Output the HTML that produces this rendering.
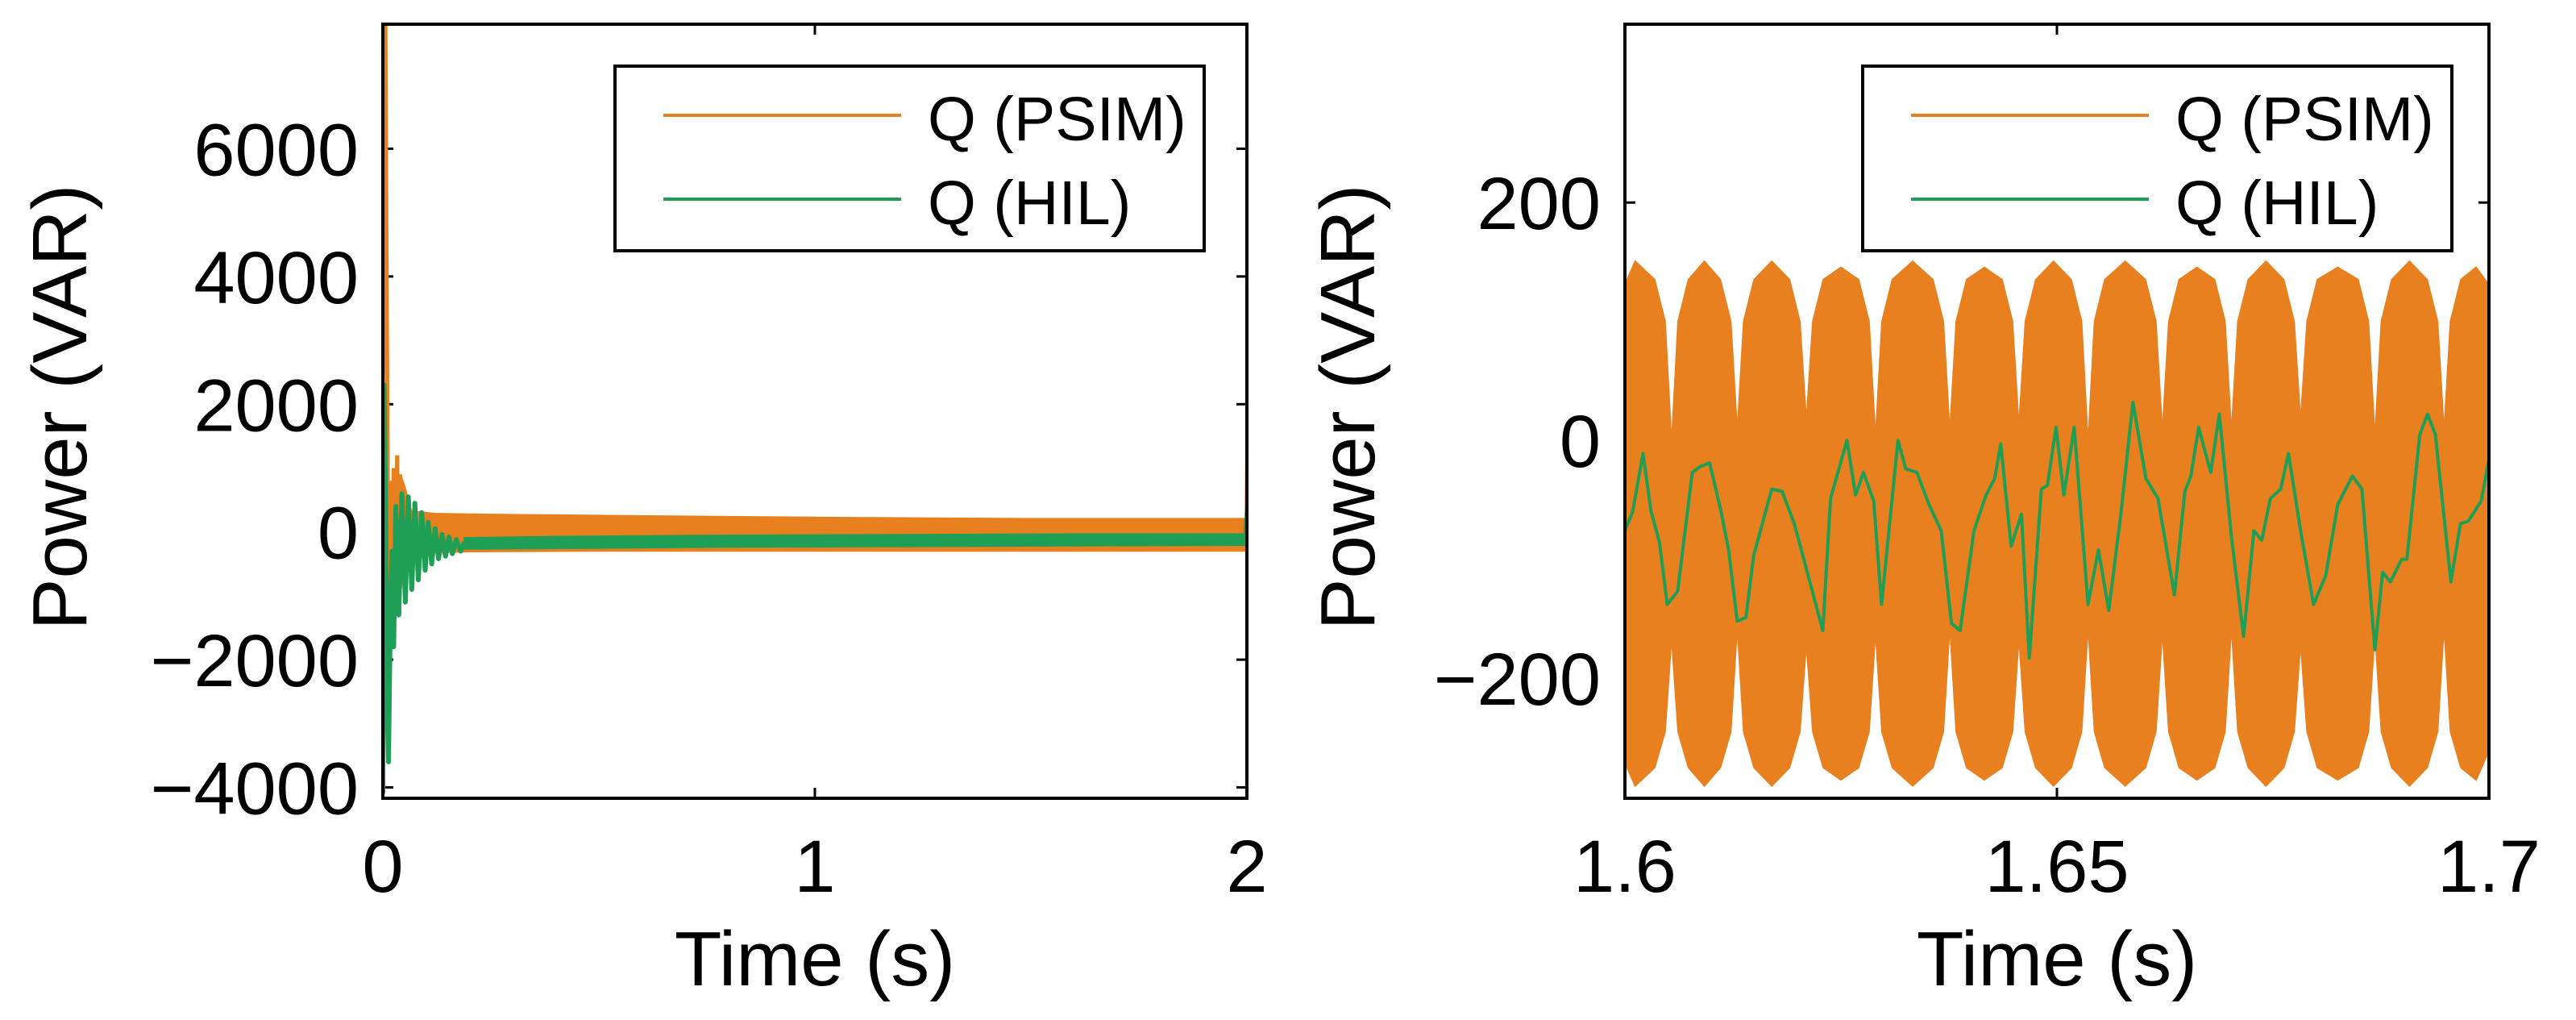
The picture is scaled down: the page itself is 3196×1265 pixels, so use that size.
<!DOCTYPE html>
<html><head><meta charset="utf-8"><title>Q power comparison</title>
<style>
html,body{margin:0;padding:0;background:#fff;}
svg{display:block;}
text{font-family:"Liberation Sans",Arial,sans-serif;fill:#000;}
</style></head>
<body>
<svg id="fig" width="3196" height="1265" viewBox="0 0 3196 1265" xmlns="http://www.w3.org/2000/svg">
<g id="left"></g>
<g id="right"></g>
</svg>
<script>
// ---------- LEFT CHART DATA ----------
const leftXTicks = [0, 1, 2];
const leftXTickLabels = ["0", "1", "2"];
const leftYTicks = [-4000, -2000, 0, 2000, 4000, 6000];
const leftYTickLabels = ["\u22124000", "\u22122000", "0", "2000", "4000", "6000"];
const leftPsimT = [0.000, 0.002, 0.006, 0.008, 0.010, 0.013, 0.016, 0.020, 0.025, 0.030, 0.033, 0.036, 0.040];
const leftPsimV = [600, 7950, 7950, 5000, 2500, -1400, 800, -1400, 1000, -800, 1200, -600, 900];
const leftPsimBandT = [0.04, 0.05, 0.065, 0.09, 0.12, 0.2, 0.5, 1.0, 1.5, 1.995];
const leftPsimBandHi = [900, 700, 320, 300, 280, 270, 250, 220, 200, 200];
const leftPsimBandLo = [-900, -700, -450, -350, -320, -300, -290, -290, -290, -290];
const leftPsimEndT = [1.995, 1.998, 2.0];
const leftPsimEndV = [-280, -280, 1300];
const leftHilT = [0.000, 0.003, 0.006, 0.010, 0.013, 0.017, 0.021, 0.025, 0.030, 0.037, 0.044, 0.052, 0.059, 0.067, 0.074, 0.082, 0.090, 0.098, 0.105, 0.113, 0.121, 0.129, 0.137, 0.145, 0.153, 0.161, 0.170, 0.180, 0.190];
const leftHilV = [-4100, 2300, 800, -2500, -3600, -1500, -300, -1800, 400, -1300, 600, -1100, 550, -900, 450, -750, 300, -600, 150, -500, 50, -420, -40, -380, -80, -340, -120, -300, -150];
const leftHilBandT = [0.19, 0.4, 0.8, 1.2, 1.6, 1.995];
const leftHilBandHi = [-100, -80, -60, -50, -40, -40];
const leftHilBandLo = [-260, -250, -230, -220, -210, -200];
const leftHilEndT = [1.995, 2.0];
const leftHilEndV = [-120, 400];

// ---------- RIGHT CHART DATA ----------
const rightXTicks = [1.6, 1.65, 1.7];
const rightXTickLabels = ["1.6", "1.65", "1.7"];
const rightYTicks = [-200, 0, 200];
const rightYTickLabels = ["\u2212200", "0", "200"];
const rightPsimT = [1.6000,1.6012,1.6034,1.6046,1.6054,1.6062,1.6074,1.6092,1.6110,1.6122,1.6130,1.6138,1.6150,1.6170,1.6190,1.6202,1.6210,1.6218,1.6230,1.6250,1.6270,1.6282,1.6290,1.6298,1.6310,1.6333,1.6356,1.6368,1.6376,1.6384,1.6396,1.6416,1.6436,1.6448,1.6456,1.6464,1.6476,1.6496,1.6516,1.6528,1.6536,1.6544,1.6556,1.6579,1.6602,1.6614,1.6622,1.6630,1.6642,1.6662,1.6682,1.6694,1.6702,1.6710,1.6722,1.6742,1.6762,1.6774,1.6782,1.6790,1.6802,1.6825,1.6848,1.6860,1.6868,1.6876,1.6888,1.6908,1.6928,1.6940,1.6948,1.6956,1.6968,1.6985,1.7000];
const rightPsimHi = [130,150,135,100,-10,100,135,150,135,100,0,100,135,150,135,100,10,100,135,145,135,100,-5,100,135,150,135,100,0,100,135,145,135,100,5,100,135,150,135,100,-10,100,135,150,135,100,0,100,135,145,135,100,0,100,135,150,135,100,10,100,135,145,135,100,-5,100,135,150,135,100,0,100,135,145,130];
const rightPsimLo = [-270,-290,-275,-245,-160,-245,-275,-290,-275,-245,-150,-245,-275,-290,-275,-245,-165,-245,-275,-285,-275,-245,-155,-245,-275,-290,-275,-245,-150,-245,-275,-285,-275,-245,-160,-245,-275,-290,-275,-245,-150,-245,-275,-290,-275,-245,-155,-245,-275,-285,-275,-245,-150,-245,-275,-290,-275,-245,-165,-245,-275,-285,-275,-245,-155,-245,-275,-290,-275,-245,-150,-245,-275,-285,-260];
const rightHilT = [1.6000,1.6009,1.6021,1.6030,1.6040,1.6049,1.6061,1.6078,1.6087,1.6098,1.6111,1.6120,1.6130,1.6140,1.6149,1.6170,1.6182,1.6196,1.6210,1.6229,1.6238,1.6257,1.6267,1.6276,1.6288,1.6297,1.6316,1.6325,1.6338,1.6352,1.6366,1.6378,1.6388,1.6404,1.6418,1.6428,1.6435,1.6447,1.6459,1.6468,1.6482,1.6489,1.6499,1.6508,1.6520,1.6536,1.6548,1.6560,1.6574,1.6588,1.6603,1.6617,1.6636,1.6648,1.6655,1.6664,1.6678,1.6688,1.6702,1.6716,1.6728,1.6737,1.6747,1.6759,1.6768,1.6782,1.6797,1.6811,1.6825,1.6842,1.6853,1.6868,1.6877,1.6886,1.6899,1.6905,1.6920,1.6929,1.6938,1.6956,1.6967,1.6976,1.6991,1.7000];
const rightHilV = [-76,-60,-11,-59,-86,-138,-127,-27,-22,-19,-59,-92,-152,-149,-97,-41,-43,-70,-108,-160,-49,0,-46,-27,-51,-138,0,-24,-27,-54,-76,-154,-160,-76,-46,-32,-3,-89,-62,-183,-41,-38,11,-46,11,-138,-92,-143,-62,32,-32,-49,-130,-43,-30,11,-27,22,-81,-165,-76,-84,-49,-41,-11,-76,-138,-114,-54,-30,-41,-176,-111,-119,-100,-100,5,22,5,-119,-70,-68,-51,-16];

const ORANGE = "#e8801f", GREEN = "#1f9e55";
const NS = "http://www.w3.org/2000/svg";

const L = {x0:475, x1:1547, y0:990, y1:30, tmin:0, tmax:2, vmin:-4170, vmax:7950};
const R = {x0:2016, x1:3088, y0:990, y1:30, tmin:1.6, tmax:1.7, vmin:-301, vmax:350};
function sx(a, t){ return a.x0 + (t - a.tmin) / (a.tmax - a.tmin) * (a.x1 - a.x0); }
function sy(a, v){ return a.y0 - (v - a.vmin) / (a.vmax - a.vmin) * (a.y0 - a.y1); }

function mk(parent, tag, attrs){
  const el = document.createElementNS(NS, tag);
  for (const k in attrs) el.setAttribute(k, attrs[k]);
  parent.appendChild(el);
  return el;
}
function linePts(a, ts, vs){ return ts.map((t,i)=>sx(a,t).toFixed(1)+","+sy(a,vs[i]).toFixed(1)).join(" "); }
function bandPts(a, ts, hi, lo){
  const up = ts.map((t,i)=>sx(a,t).toFixed(1)+","+sy(a,hi[i]).toFixed(1));
  const dn = ts.map((t,i)=>sx(a,t).toFixed(1)+","+sy(a,lo[i]).toFixed(1)).reverse();
  return up.concat(dn).join(" ");
}

function drawAxes(g, a, xt, xl, yt, yl, ylabX, clipId){
  const defs = mk(g, "defs", {});
  const cp = mk(defs, "clipPath", {id: clipId});
  mk(cp, "rect", {x:a.x0, y:a.y1, width:a.x1-a.x0, height:a.y0-a.y1});
  xt.forEach((t,i)=>{
    const x = sx(a,t);
    const tb = mk(g, "line", {x1:x, x2:x, y1:a.y0, y2:a.y0-13, stroke:"#000", "stroke-width":3});
    
    
    const tt = mk(g, "line", {x1:x, x2:x, y1:a.y1, y2:a.y1+13, stroke:"#000", "stroke-width":3});
    
    
    const lb = mk(g, "text", {x:x, y:1106, "font-size":92, "text-anchor":"middle"});
    lb.textContent = xl[i];
    
    
  });
  yt.forEach((v,i)=>{
    const y = sy(a,v);
    const tl = mk(g, "line", {x1:a.x0, x2:a.x0+13, y1:y, y2:y, stroke:"#000", "stroke-width":3});
    
    
    const tr = mk(g, "line", {x1:a.x1, x2:a.x1-13, y1:y, y2:y, stroke:"#000", "stroke-width":3});
    
    
    const lb = mk(g, "text", {x:a.x0-30, y:y+33, "font-size":92, "text-anchor":"end"});
    lb.textContent = yl[i];
    
    
  });
  const xt2 = mk(g, "text", {x:(a.x0+a.x1)/2, y:1222, "font-size":96, "text-anchor":"middle"});
  xt2.textContent = "Time (s)";
  
  
  const yc = 505;
  const yt2 = mk(g, "text", {x:ylabX, y:yc, "font-size":96, "text-anchor":"middle", transform:"rotate(-90 "+ylabX+" "+yc+")"});
  yt2.textContent = "Power (VAR)";
  
  
}
function drawFrame(g, a){
  const fr = mk(g, "rect", {x:a.x0, y:a.y1, width:a.x1-a.x0, height:a.y0-a.y1, fill:"none", stroke:"#000", "stroke-width":4});
  
  
}
function drawLegend(g, x0, x1){
  const lg = mk(g, "g", {});
  
  
  const box = mk(lg, "rect", {x:x0, y:82, width:x1-x0, height:229, fill:"#fff", stroke:"#000", "stroke-width":4});
  
  
  const items = [["Q (PSIM)", ORANGE, 143, 'legend-entry-psim'], ["Q (HIL)", GREEN, 247, 'legend-entry-hil']];
  items.forEach(it=>{
    const e = mk(lg, "g", {});
    
    
    mk(e, "line", {x1:x0+60, x2:x0+355, y1:it[2], y2:it[2], stroke:it[1], "stroke-width":4});
    const t = mk(e, "text", {x:x0+388, y:it[2]+31, "font-size":77});
    t.textContent = it[0];
  });
}

(function(){
  const g = document.getElementById("left");
  drawAxes(g, L, leftXTicks, leftXTickLabels, leftYTicks, leftYTickLabels, 107, "clipL");
  const d = mk(g, "g", {"clip-path":"url(#clipL)"});
  const ob = mk(d, "polygon", {points:bandPts(L, leftPsimBandT, leftPsimBandHi, leftPsimBandLo), fill:ORANGE, stroke:ORANGE, "stroke-width":3});
  
  
  const ol = mk(d, "polyline", {points:linePts(L, leftPsimT, leftPsimV), fill:"none", stroke:ORANGE, "stroke-width":5});
  
  
  const oe = mk(d, "polyline", {points:linePts(L, leftPsimEndT, leftPsimEndV), fill:"none", stroke:ORANGE, "stroke-width":4});
  
  
  const gb = mk(d, "polygon", {points:bandPts(L, leftHilBandT, leftHilBandHi, leftHilBandLo), fill:GREEN, stroke:GREEN, "stroke-width":3});
  
  
  const gl = mk(d, "polyline", {points:linePts(L, leftHilT, leftHilV), fill:"none", stroke:GREEN, "stroke-width":6, "stroke-linejoin":"round"});
  
  
  const ge = mk(d, "polyline", {points:linePts(L, leftHilEndT, leftHilEndV), fill:"none", stroke:GREEN, "stroke-width":4});
  
  
  drawFrame(g, L);
  drawLegend(g, 763, 1494);
})();

(function(){
  const g = document.getElementById("right");
  drawAxes(g, R, rightXTicks, rightXTickLabels, rightYTicks, rightYTickLabels, 1705, "clipR");
  const d = mk(g, "g", {"clip-path":"url(#clipR)"});
  const ob = mk(d, "polygon", {points:bandPts(R, rightPsimT, rightPsimHi, rightPsimLo), fill:ORANGE, stroke:ORANGE, "stroke-width":3});
  
  
  const gl = mk(d, "polyline", {points:linePts(R, rightHilT, rightHilV), fill:"none", stroke:GREEN, "stroke-width":4, "stroke-linejoin":"round"});
  
  
  drawFrame(g, R);
  drawLegend(g, 2311, 3042);
})();
</script>
</body></html>
